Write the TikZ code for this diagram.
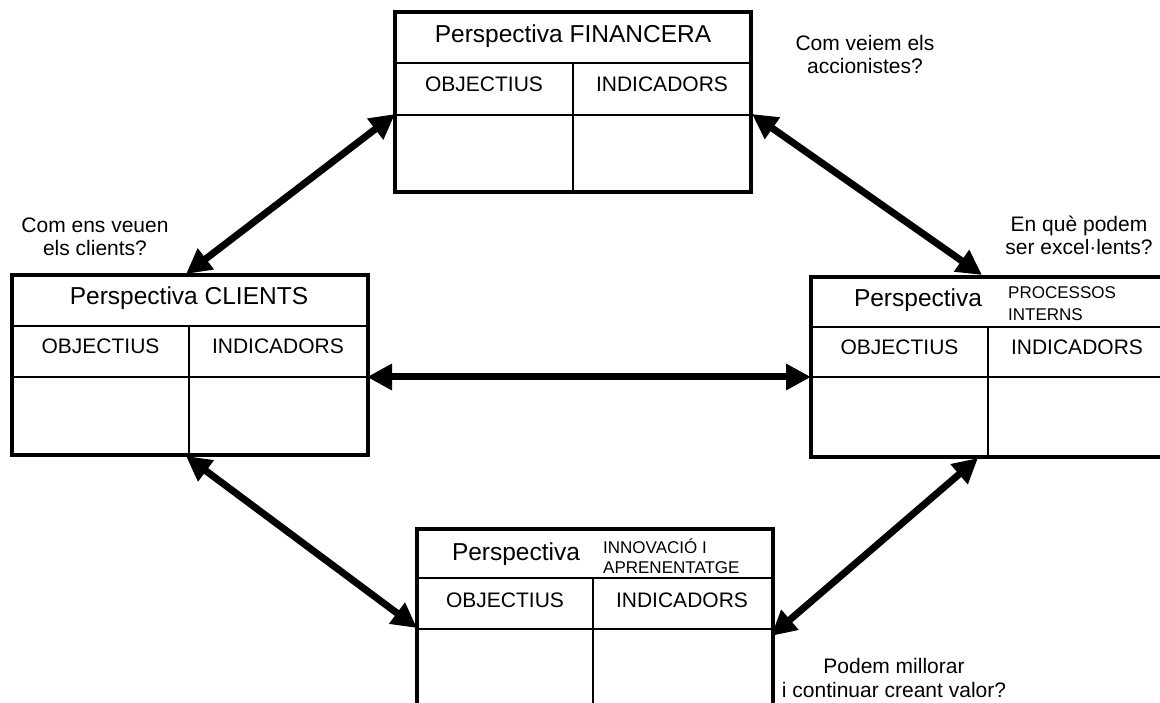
\documentclass[tikz,border=0pt]{standalone}
\usepackage{fontspec}
\setmainfont{Liberation Sans}
\usetikzlibrary{arrows.meta,calc}

\tikzset{
  frame/.style={draw, line width=4pt, minimum width=356pt, minimum height=180pt,
    anchor=north west, inner sep=0pt, outer sep=0pt},
  gridline/.style={line width=2pt},
  link/.style={line width=7pt,
    {Triangle[length=25pt,width=25pt]}-{Triangle[length=25pt,width=25pt]}},
  big/.style={font=\fontsize{24.5}{28}\selectfont, anchor=base, inner sep=0pt},
  head/.style={font=\fontsize{21}{25}\selectfont, anchor=base, inner sep=0pt},
  small/.style={font=\fontsize{17}{21}\selectfont, anchor=base west, inner sep=0pt},
  note/.style={font=\fontsize{21}{23.5}\selectfont, align=center, anchor=base, inner sep=0pt},
}

\begin{document}
\begin{tikzpicture}[x=1pt,y=-1pt]
\path[use as bounding box, clip] (0,0) rectangle (1160,703);

% ---- Financial perspective
\node[frame] (fin) at (395,12) {};
\draw[gridline] (395,63) -- (751,63);
\draw[gridline] (395,115) -- (751,115);
\draw[gridline] (573,63) -- (573,192);
\node[big] (finT) at (573,43) {Perspectiva FINANCERA};
\node[head] (finO) at (484,92) {OBJECTIUS};
\node[head] (finI) at (662,92) {INDICADORS};

% ---- Customer perspective
\node[frame] (cli) at (12,275) {};
\draw[gridline] (12,326) -- (367,326);
\draw[gridline] (12,377) -- (367,377);
\draw[gridline] (189,326) -- (189,455);
\node[big] (cliT) at (189,305) {Perspectiva CLIENTS};
\node[head] (cliO) at (100.5,354) {OBJECTIUS};
\node[head] (cliI) at (278,354) {INDICADORS};

% ---- Internal processes perspective
\node[frame] (pro) at (811,277) {};
\draw[gridline] (811,327) -- (1167,327);
\draw[gridline] (811,377) -- (1167,377);
\draw[gridline] (988,327) -- (988,457);
\node[big] (proT) at (918,307) {Perspectiva};
\node[small] (proS1) at (1008,299) {PROCESSOS};
\node[small] (proS2) at (1008,321) {INTERNS};
\node[head] (proO) at (899.5,355) {OBJECTIUS};
\node[head] (proI) at (1077,355) {INDICADORS};

% ---- Innovation and learning perspective
\node[frame] (inn) at (417,529) {};
\draw[gridline] (417,578) -- (771,578);
\draw[gridline] (417,629) -- (771,629);
\draw[gridline] (593,578) -- (593,709);
\node[big] (innT) at (516,560) {Perspectiva};
\node[small] (innS1) at (603,553) {INNOVACIÓ I};
\node[small] (innS2) at (603,573) {APRENENTATGE};
\node[head] (innO) at (505,607) {OBJECTIUS};
\node[head] (innI) at (682,607) {INDICADORS};

% ---- connector ends on the frames
\coordinate (finL) at (395,114);
\coordinate (finR) at (752,114);
\coordinate (cliTop) at (186,274);
\coordinate (cliR) at (367,377);
\coordinate (cliBot) at (186,456);
\coordinate (proTop) at (982,275);
\coordinate (proL) at (811,377);
\coordinate (proBot) at (978,458);
\coordinate (innL) at (417,628);
\coordinate (innR) at (771,636);

% ---- two-way links
\draw[link] (finL) -- (cliTop);
\draw[link] (finR) -- (proTop);
\draw[link] (cliR) -- (proL);
\draw[link] (cliBot) -- (innL);
\draw[link] (proBot) -- (innR);

% ---- guiding questions (anchored on the baseline of the last line)
\node[note] (qFin) at (865,74) {Com veiem els\\accionistes?};
\node[note] (qCli) at (95,256) {Com ens veuen\\els clients?};
\node[note] (qPro) at (1079,255) {En què podem\\ser excel·lents?};
\node[note] (qInn) at (894,697) {Podem millorar\\i continuar creant valor?};
\end{tikzpicture}
\end{document}
